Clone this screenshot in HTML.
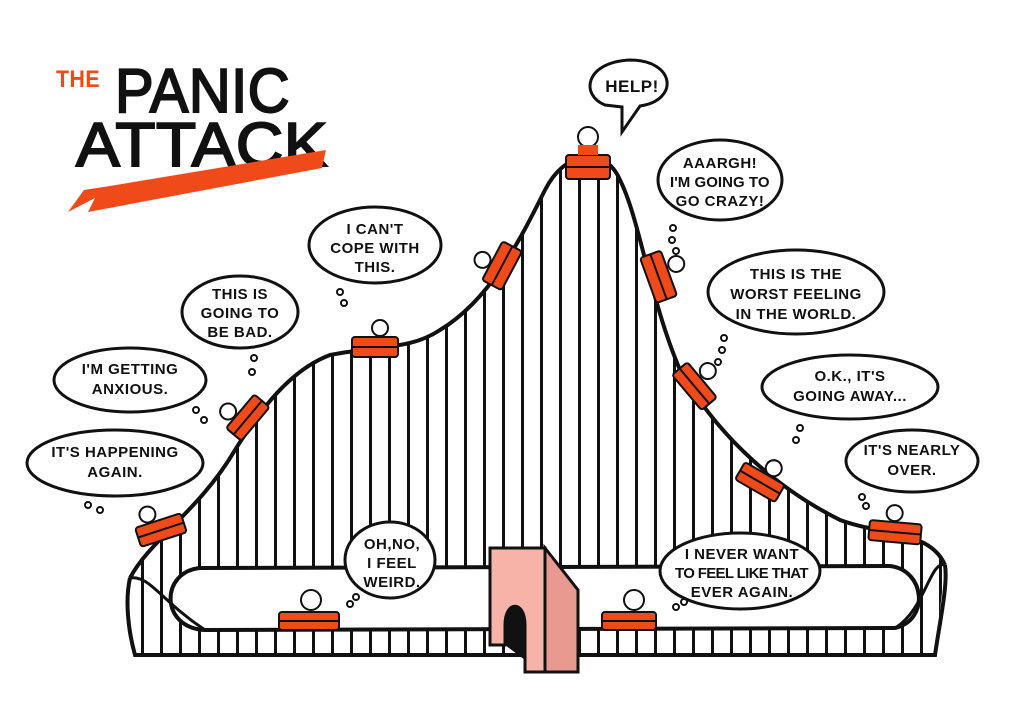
<!DOCTYPE html>
<html><head><meta charset="utf-8"><style>
html,body{margin:0;padding:0;background:#fff;}
svg{display:block;}
text{font-family:"Liberation Sans",sans-serif;font-weight:bold;fill:#111;letter-spacing:0.5px;}
.b{fill:#fff;stroke:#111;stroke-width:3;}
.t{font-size:15px;text-anchor:middle;}
.cart{fill:#f04a1a;stroke:#111;stroke-width:2;}
</style></head><body>
<svg width="1024" height="720" viewBox="0 0 1024 720" xmlns="http://www.w3.org/2000/svg">
<defs>
<pattern id="st" x="0" y="0" width="19" height="10" patternUnits="userSpaceOnUse">
<rect x="8" y="0" width="3" height="10" fill="#111"/>
</pattern>
<clipPath id="hill">
<path d="M130,578 C150,540 200,510 235,450 C260,410 290,370 330,355 C380,345 410,350 440,330 C490,300 520,240 545,190 C565,150 605,145 620,180 C640,220 650,300 680,370 C720,440 780,490 840,520 C880,535 930,530 945,565 L935,655 L135,655 Z"/>
</clipPath>
</defs>
<rect x="120" y="140" width="840" height="520" fill="url(#st)" clip-path="url(#hill)"/>
<path d="M130,578 C150,540 200,510 235,450 C260,410 290,370 330,355 C380,345 410,350 440,330 C490,300 520,240 545,190 C565,150 605,145 620,180 C640,220 650,300 680,370 C720,440 780,490 840,520 C880,535 930,530 945,565" fill="none" stroke="#111" stroke-width="4"/>
<path d="M200,568 L890,566 C925,570 930,620 895,628 L205,630 C160,628 160,572 200,568 Z" fill="#fff" stroke="#111" stroke-width="4"/>
<path d="M130,578 C125,600 128,630 135,655 L935,655 C940,620 948,585 945,565" fill="none" stroke="#111" stroke-width="4"/>
<path d="M130,578 C150,575 160,600 205,630" fill="none" stroke="#111" stroke-width="3"/>
<path d="M945,565 C930,560 925,610 895,628" fill="none" stroke="#111" stroke-width="3"/>
<polygon points="545,548 578,590 578,672 545,672" fill="#e99a90" stroke="#111" stroke-width="3"/>
<path d="M490,548 L545,548 L545,672 L525,672 L525,625 C525,600 505,600 505,625 L505,645 L490,645 Z" fill="#f8b3a8" stroke="#111" stroke-width="3"/>
<path d="M505,625 C505,600 525,600 525,625 L525,660 L505,645Z" fill="#111"/>
<g>
<g transform="translate(135,528) rotate(-18)"><rect class="cart" x="0" y="0" width="48" height="20" rx="3"/><line x1="0" y1="10" x2="48" y2="10" stroke="#111" stroke-width="2"/><circle cx="16" cy="-9" r="8" fill="#fff" stroke="#111" stroke-width="2"/></g>
<g transform="translate(226,428) rotate(-50)"><rect class="cart" x="0" y="0" width="44" height="20" rx="3"/><line x1="0" y1="10" x2="44" y2="10" stroke="#111" stroke-width="2"/><circle cx="14" cy="-9" r="8" fill="#fff" stroke="#111" stroke-width="2"/></g>
<g transform="translate(352,337)"><rect class="cart" x="0" y="0" width="46" height="20" rx="3"/><line x1="0" y1="10" x2="46" y2="10" stroke="#111" stroke-width="2"/><circle cx="28" cy="-9" r="8" fill="#fff" stroke="#111" stroke-width="2"/></g>
<g transform="translate(482,280) rotate(-62)"><rect class="cart" x="0" y="0" width="44" height="22" rx="3"/><line x1="0" y1="11" x2="44" y2="11" stroke="#111" stroke-width="2"/><circle cx="18" cy="-9" r="8" fill="#fff" stroke="#111" stroke-width="2"/></g>
<g transform="translate(566,155)"><rect class="cart" x="0" y="0" width="44" height="24" rx="3"/><line x1="0" y1="12" x2="44" y2="12" stroke="#111" stroke-width="2"/><circle cx="22" cy="-18" r="10" fill="#fff" stroke="#111" stroke-width="2"/><rect x="12" y="-10" width="20" height="10" fill="#f04a1a"/></g>
<g transform="translate(640,258) rotate(70)"><rect class="cart" x="0" y="-22" width="48" height="22" rx="3"/><line x1="0" y1="-11" x2="48" y2="-11" stroke="#111" stroke-width="2"/><circle cx="18" cy="-32" r="8" fill="#fff" stroke="#111" stroke-width="2"/></g>
<g transform="translate(672,375) rotate(50)"><rect class="cart" x="0" y="-20" width="46" height="20" rx="3"/><line x1="0" y1="-10" x2="46" y2="-10" stroke="#111" stroke-width="2"/><circle cx="20" cy="-30" r="8" fill="#fff" stroke="#111" stroke-width="2"/></g>
<g transform="translate(745,462) rotate(30)"><rect class="cart" x="0" y="0" width="46" height="20" rx="3"/><line x1="0" y1="10" x2="46" y2="10" stroke="#111" stroke-width="2"/><circle cx="28" cy="-9" r="8" fill="#fff" stroke="#111" stroke-width="2"/></g>
<g transform="translate(870,520) rotate(5)"><rect class="cart" x="0" y="0" width="52" height="20" rx="3"/><line x1="0" y1="10" x2="52" y2="10" stroke="#111" stroke-width="2"/><circle cx="24" cy="-9" r="8" fill="#fff" stroke="#111" stroke-width="2"/></g>
<g transform="translate(279,612)"><rect class="cart" x="0" y="0" width="60" height="18" rx="3"/><line x1="0" y1="9" x2="60" y2="9" stroke="#111" stroke-width="2"/><circle cx="32" cy="-12" r="10" fill="#fff" stroke="#111" stroke-width="2"/></g>
<g transform="translate(602,612)"><rect class="cart" x="0" y="0" width="54" height="18" rx="3"/><line x1="0" y1="9" x2="54" y2="9" stroke="#111" stroke-width="2"/><circle cx="32" cy="-12" r="10" fill="#fff" stroke="#111" stroke-width="2"/></g>
</g>
<path class="b" d="M605,105 C580,95 585,62 630,60 C675,60 680,100 640,106 L622,132 L622,107 Z"/>
<text class="t" x="632" y="92" style="font-size:17px">HELP!</text>
<ellipse class="b" cx="720" cy="180" rx="62" ry="40"/>
<text class="t" x="720" y="168">AAARGH!</text><text class="t" x="720" y="187" textLength="100">I'M GOING TO</text><text class="t" x="720" y="206">GO CRAZY!</text>
<ellipse class="b" cx="796" cy="292" rx="88" ry="42"/>
<text class="t" x="796" y="279">THIS IS THE</text><text class="t" x="796" y="299">WORST FEELING</text><text class="t" x="796" y="319">IN THE WORLD.</text>
<ellipse class="b" cx="850" cy="387" rx="88" ry="32"/>
<text class="t" x="850" y="381">O.K., IT'S</text><text class="t" x="850" y="401">GOING AWAY...</text>
<ellipse class="b" cx="912" cy="461" rx="66" ry="31"/>
<text class="t" x="912" y="455">IT'S NEARLY</text><text class="t" x="912" y="475">OVER.</text>
<ellipse class="b" cx="740" cy="571" rx="80" ry="38"/>
<text class="t" x="742" y="559">I NEVER WANT</text><text class="t" x="742" y="578" textLength="134">TO FEEL LIKE THAT</text><text class="t" x="742" y="597">EVER AGAIN.</text>
<ellipse class="b" cx="390" cy="560" rx="45" ry="38"/>
<text class="t" x="392" y="549">OH,NO,</text><text class="t" x="392" y="568">I FEEL</text><text class="t" x="392" y="587">WEIRD.</text>
<ellipse class="b" cx="375" cy="245" rx="66" ry="38"/>
<text class="t" x="375" y="234">I CAN'T</text><text class="t" x="375" y="253">COPE WITH</text><text class="t" x="375" y="272">THIS.</text>
<ellipse class="b" cx="240" cy="312" rx="58" ry="36"/>
<text class="t" x="240" y="299">THIS IS</text><text class="t" x="240" y="318">GOING TO</text><text class="t" x="240" y="337">BE BAD.</text>
<ellipse class="b" cx="130" cy="380" rx="76" ry="32"/>
<text class="t" x="130" y="374">I'M GETTING</text><text class="t" x="130" y="394">ANXIOUS.</text>
<ellipse class="b" cx="115" cy="463" rx="88" ry="33"/>
<text class="t" x="115" y="457">IT'S HAPPENING</text><text class="t" x="115" y="477">AGAIN.</text>
<g fill="#fff" stroke="#111" stroke-width="2">
<circle cx="673" cy="228" r="3"/><circle cx="672" cy="240" r="3"/><circle cx="676" cy="251" r="3"/>
<circle cx="724" cy="338" r="3"/><circle cx="722" cy="350" r="3"/><circle cx="718" cy="362" r="3"/>
<circle cx="800" cy="428" r="3"/><circle cx="796" cy="440" r="3"/><circle cx="862" cy="497" r="3"/><circle cx="866" cy="506" r="3"/>
<circle cx="684" cy="602" r="3"/><circle cx="676" cy="607" r="3"/><circle cx="356" cy="597" r="3"/><circle cx="350" cy="604" r="3"/>
<circle cx="340" cy="292" r="3"/><circle cx="344" cy="303" r="3"/><circle cx="254" cy="358" r="3"/><circle cx="252" cy="372" r="3"/>
<circle cx="196" cy="410" r="3"/><circle cx="204" cy="420" r="3"/><circle cx="88" cy="505" r="3"/><circle cx="100" cy="510" r="3"/>
</g>
<text x="56" y="87" style="font-size:24px;fill:#f04a1a" textLength="44" lengthAdjust="spacingAndGlyphs">THE</text>
<text x="115" y="112" style="font-size:62px;font-weight:normal;stroke:#111;stroke-width:2" textLength="175" lengthAdjust="spacingAndGlyphs">PANIC</text>
<text x="76" y="166" style="font-size:62px;font-weight:normal;stroke:#111;stroke-width:2" textLength="252" lengthAdjust="spacingAndGlyphs">ATTACK</text>
<path d="M68,212 L95,198 L88,212 L322,168 L326,150 L110,186 L84,190 Z" fill="#f04a1a"/>
</svg>
</body></html>
